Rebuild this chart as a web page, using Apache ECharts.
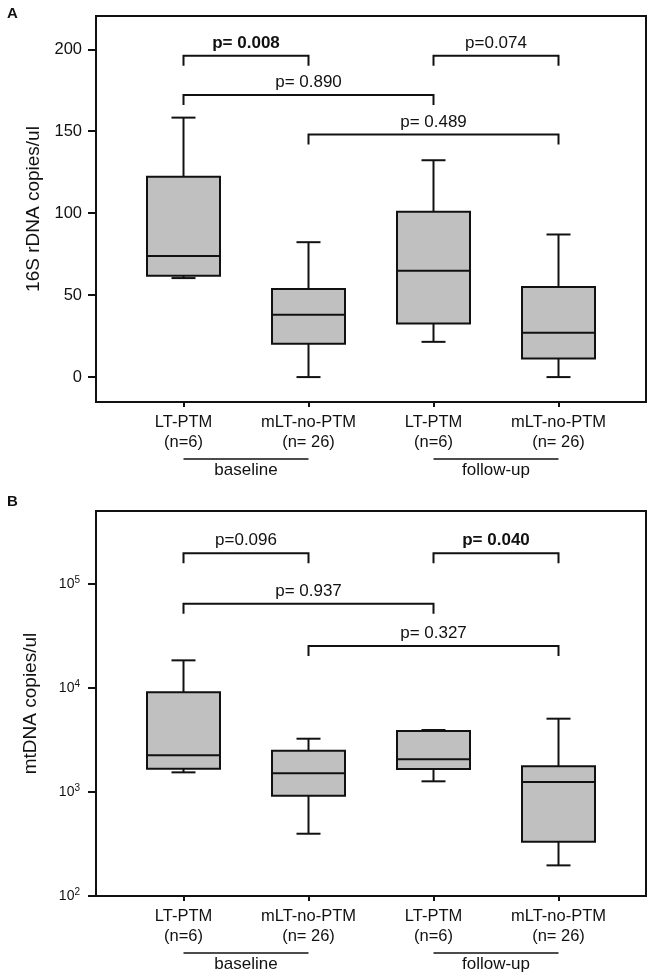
<!DOCTYPE html>
<html>
<head>
<meta charset="utf-8">
<script src="https://cdn.jsdelivr.net/npm/echarts@6/dist/echarts.min.js"></script>
<style>
html,body{margin:0;padding:0;background:#fff;}
#chart{width:647px;height:974px;}
</style>
</head>
<body>
<div id="chart"></div>
<script>
// ---- data ----
const categories = ['LT-PTM\n(n=6)', 'mLT-no-PTM\n(n= 26)', 'LT-PTM\n(n=6)', 'mLT-no-PTM\n(n= 26)'];
const groupNames = ['baseline', 'follow-up'];
const groupSpans = [[0, 1], [2, 3]];

// [min, Q1, median, Q3, max]
const rdnaBoxes = [
  [60.4, 61.8, 73.8, 122.3, 158.3],
  [0, 20.3, 38, 53.7, 82.3],
  [21.5, 32.7, 64.8, 100.8, 132.3],
  [0, 11.4, 27, 55, 87]
];
const mtdnaBoxes = [
  [1545, 1675, 2254, 9100, 18450],
  [397, 922, 1513, 2496, 3254],
  [1267, 1663, 2063, 3860, 3945],
  [197, 333, 1248, 1767, 5070]
];

const rdnaTicks = [0, 50, 100, 150, 200];
const mtdnaTicks = [100, 1000, 10000, 100000];

// comparison brackets
const rdnaPairs = [[0, 1], [2, 3], [0, 2], [1, 3]];
const rdnaBracketHeights = [196.1, 196.1, 172.1, 148];
const rdnaPLabels = ['p= 0.008', 'p=0.074', 'p= 0.890', 'p= 0.489'];
const rdnaPBold = [true, false, false, false];

const mtdnaPairs = [[0, 1], [2, 3], [0, 2], [1, 3]];
const mtdnaBracketHeights = [197400, 197400, 64700, 25350];
const mtdnaPLabels = ['p=0.096', 'p= 0.040', 'p= 0.937', 'p= 0.327'];
const mtdnaPBold = [false, true, false, false];

// ---- styling ----
const FONT = '"Liberation Sans", Arial, Helvetica, sans-serif';
const INK = '#111';
const BOX_FILL = '#c0c0c0';

function boxRender(params, api) {
  const x = api.value(0);
  const lo = api.coord([x, api.value(1)]);
  const q1 = api.coord([x, api.value(2)]);
  const med = api.coord([x, api.value(3)]);
  const q3 = api.coord([x, api.value(4)]);
  const hi = api.coord([x, api.value(5)]);
  const cx = lo[0];
  const hw = 36.5, cap = 12;
  const ls = {stroke: INK, lineWidth: 2};
  return {
    type: 'group',
    children: [
      {type: 'line', shape: {x1: cx, y1: hi[1], x2: cx, y2: q3[1]}, style: ls},
      {type: 'line', shape: {x1: cx, y1: q1[1], x2: cx, y2: lo[1]}, style: ls},
      {type: 'line', shape: {x1: cx - cap, y1: hi[1], x2: cx + cap, y2: hi[1]}, style: ls},
      {type: 'line', shape: {x1: cx - cap, y1: lo[1], x2: cx + cap, y2: lo[1]}, style: ls},
      {type: 'rect', shape: {x: cx - hw, y: q3[1], width: hw * 2, height: q1[1] - q3[1]},
        style: {fill: BOX_FILL, stroke: INK, lineWidth: 2}},
      {type: 'line', shape: {x1: cx - hw, y1: med[1], x2: cx + hw, y2: med[1]}, style: ls}
    ]
  };
}

function makeBracketRender(labels, bold) {
  return function (params, api) {
    const h = api.value(2);
    const a = api.coord([api.value(0), h]);
    const b = api.coord([api.value(1), h]);
    const leg = 10;
    const i = params.dataIndex;
    return {
      type: 'group',
      children: [
        {type: 'polyline', shape: {points: [[a[0], a[1] + leg], [a[0], a[1]], [b[0], b[1]], [b[0], b[1] + leg]]},
          style: {stroke: INK, lineWidth: 2, fill: null}},
        {type: 'text', x: (a[0] + b[0]) / 2, y: a[1] - 4,
          style: {text: labels[i], fill: INK, font: (bold[i] ? 'bold ' : '') + '17px ' + FONT,
            align: 'center', verticalAlign: 'bottom'}}
      ]
    };
  };
}

function groupRender(params, api) {
  const cs = params.coordSys;
  const bottom = cs.y + cs.height;
  const a = api.coord([api.value(0), 1]);
  const b = api.coord([api.value(1), 1]);
  const i = params.dataIndex;
  return {
    type: 'group',
    children: [
      {type: 'line', shape: {x1: a[0], y1: bottom + 57, x2: b[0], y2: bottom + 57},
        style: {stroke: INK, lineWidth: 1.5}},
      {type: 'text', x: (a[0] + b[0]) / 2, y: bottom + 68,
        style: {text: groupNames[i], fill: INK, font: '17px ' + FONT, align: 'center', verticalAlign: 'middle'}}
    ]
  };
}

function xAxisDef(gridIndex) {
  return {
    type: 'value', gridIndex: gridIndex, min: -0.7, max: 3.7,
    axisLine: {show: true, onZero: false, lineStyle: {color: INK, width: 2}},
    axisTick: {show: true, length: 5, lineStyle: {color: INK, width: 2}, customValues: [0, 1, 2, 3]},
    axisLabel: {
      customValues: [0, 1, 2, 3],
      formatter: function (v) { return categories[Math.round(v)] || ''; },
      color: INK, fontSize: 16.5, fontFamily: FONT, lineHeight: 20, margin: 10
    },
    splitLine: {show: false}
  };
}

const option = {
  animation: false,
  backgroundColor: '#fff',
  title: [
    {text: 'A', left: 2, top: 1, textStyle: {fontSize: 15, fontWeight: 'bold', color: INK, fontFamily: FONT}},
    {text: 'B', left: 2, top: 489, textStyle: {fontSize: 15, fontWeight: 'bold', color: INK, fontFamily: FONT}}
  ],
  grid: [
    {left: 96, right: 1, top: 16, height: 386, show: true, borderColor: INK, borderWidth: 2, backgroundColor: 'transparent'},
    {left: 96, right: 1, top: 511, height: 385, show: true, borderColor: INK, borderWidth: 2, backgroundColor: 'transparent'}
  ],
  xAxis: [xAxisDef(0), xAxisDef(1)],
  yAxis: [
    {
      type: 'value', gridIndex: 0, min: -15.2, max: 220.3,
      name: '16S rDNA copies/ul', nameLocation: 'middle', nameGap: 52,
      nameTextStyle: {fontSize: 19, color: INK, fontFamily: FONT},
      axisLine: {show: true, onZero: false, lineStyle: {color: INK, width: 2}},
      axisTick: {show: true, length: 8, lineStyle: {color: INK, width: 2}, customValues: rdnaTicks},
      axisLabel: {customValues: rdnaTicks, color: INK, fontSize: 16.5, fontFamily: FONT, margin: 14},
      splitLine: {show: false}
    },
    {
      type: 'log', logBase: 10, gridIndex: 1, min: 100, max: 503500,
      name: 'mtDNA copies/ul', nameLocation: 'middle', nameGap: 56,
      nameTextStyle: {fontSize: 19, color: INK, fontFamily: FONT},
      axisLine: {show: true, onZero: false, lineStyle: {color: INK, width: 2}},
      axisTick: {show: true, length: 8, lineStyle: {color: INK, width: 2}, customValues: mtdnaTicks},
      axisLabel: {
        customValues: mtdnaTicks,
        formatter: function (v) { return '{b|10}{s|' + Math.round(Math.log10(v)) + '}'; },
        margin: 16,
        rich: {
          b: {fontSize: 14, fontFamily: FONT, color: INK, lineHeight: 18},
          s: {fontSize: 10, fontFamily: FONT, color: INK, verticalAlign: 'top', lineHeight: 12}
        }
      },
      splitLine: {show: false}
    }
  ],
  series: [
    {type: 'custom', xAxisIndex: 0, yAxisIndex: 0, clip: false,
      data: rdnaBoxes.map(function (b, i) { return [i].concat(b); }),
      encode: {x: 0, y: [1, 2, 3, 4, 5]}, renderItem: boxRender},
    {type: 'custom', xAxisIndex: 1, yAxisIndex: 1, clip: false,
      data: mtdnaBoxes.map(function (b, i) { return [i].concat(b); }),
      encode: {x: 0, y: [1, 2, 3, 4, 5]}, renderItem: boxRender},
    {type: 'custom', xAxisIndex: 0, yAxisIndex: 0, clip: false,
      data: rdnaPairs.map(function (p, i) { return [p[0], p[1], rdnaBracketHeights[i]]; }),
      encode: {x: [0, 1], y: 2}, renderItem: makeBracketRender(rdnaPLabels, rdnaPBold)},
    {type: 'custom', xAxisIndex: 1, yAxisIndex: 1, clip: false,
      data: mtdnaPairs.map(function (p, i) { return [p[0], p[1], mtdnaBracketHeights[i]]; }),
      encode: {x: [0, 1], y: 2}, renderItem: makeBracketRender(mtdnaPLabels, mtdnaPBold)},
    {type: 'custom', xAxisIndex: 0, yAxisIndex: 0, clip: false,
      data: groupSpans.map(function (s) { return [s[0], s[1]]; }),
      encode: {x: [0, 1]}, renderItem: groupRender},
    {type: 'custom', xAxisIndex: 1, yAxisIndex: 1, clip: false,
      data: groupSpans.map(function (s) { return [s[0], s[1]]; }),
      encode: {x: [0, 1]}, renderItem: groupRender}
  ]
};

const chart = echarts.init(document.getElementById('chart'), null, {renderer: 'canvas'});
chart.setOption(option);
</script>
</body>
</html>
